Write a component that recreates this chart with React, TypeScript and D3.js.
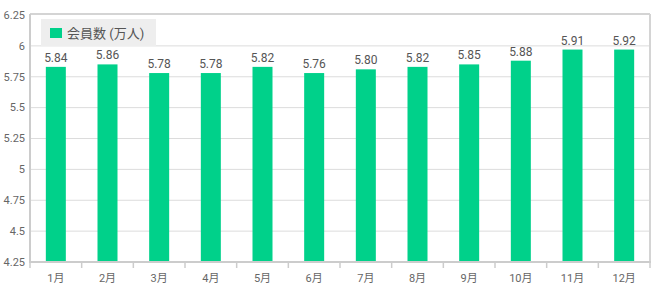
import React from "react";
import * as d3 from "d3";

const categories = ["1月", "2月", "3月", "4月", "5月", "6月", "7月", "8月", "9月", "10月", "11月", "12月"];
const barValues = [5.83, 5.85, 5.78, 5.78, 5.83, 5.78, 5.81, 5.83, 5.85, 5.88, 5.97, 5.97];
const valueLabels = ["5.84", "5.86", "5.78", "5.78", "5.82", "5.76", "5.80", "5.82", "5.85", "5.88", "5.91", "5.92"];
const yTicks = [4.25, 4.5, 4.75, 5, 5.25, 5.5, 5.75, 6, 6.25];
const yTickLabels = ["4.25", "4.5", "4.75", "5", "5.25", "5.5", "5.75", "6", "6.25"];
const seriesName = "会員数 (万人)";

const W = 660, H = 293;
const left = 30, right = 650, top = 15, bottom = 262;
const font = "Roboto, 'Noto Sans CJK JP', sans-serif";

export default function App() {
  const x = d3.scaleBand<string>().domain(categories).range([left, right]).paddingInner(0).paddingOuter(0);
  const y = d3.scaleLinear().domain([4.25, 6.25]).range([bottom, top]);
  const bw = 20;
  return (
    <svg width={W} height={H} style={{ position: "absolute", left: 0, top: 0 }} fontFamily={font}>
      <rect x={0} y={0} width={W} height={H} fill="#fff" />
      {yTicks.map((t, i) => (
        <g key={i}>
          {i > 0 && i < yTicks.length - 1 && (
            <line x1={left} x2={right} y1={y(t)} y2={y(t)} stroke="#dcdcdc" strokeWidth={1} />
          )}
          <text x={left - 5} y={y(t)} dy="0.35em" textAnchor="end" fontSize={11} fill="#666">{yTickLabels[i]}</text>
        </g>
      ))}
      <line x1={left} x2={right} y1={top - 1} y2={top - 1} stroke="#d4d4d4" strokeWidth={2} />
      <line x1={right} x2={right} y1={top - 1} y2={bottom} stroke="#d4d4d4" strokeWidth={2} />
      {barValues.map((v, i) => {
        const cx = x(categories[i])! + x.bandwidth() / 2;
        return (
          <g key={i}>
            <rect x={cx - bw / 2} y={y(v)} width={bw} height={bottom - y(v)} fill="#00d18a" />
            <text x={cx} y={y(v) - 5} textAnchor="middle" fontSize={12} fill="#555">{valueLabels[i]}</text>
          </g>
        );
      })}
      <line x1={left} x2={left} y1={top - 1} y2={bottom + 1} stroke="#cccccc" strokeWidth={2} />
      <line x1={left - 1} x2={right + 1} y1={bottom} y2={bottom} stroke="#cccccc" strokeWidth={2} />
      {categories.map((c, i) => (
        <line key={"t" + i} x1={x(c)!} x2={x(c)!} y1={bottom} y2={bottom + 6} stroke="#cccccc" strokeWidth={1.5} />
      ))}
      <line x1={right} x2={right} y1={bottom} y2={bottom + 6} stroke="#cccccc" strokeWidth={1.5} />
      {categories.map((c, i) => (
        <text key={"l" + i} x={x(c)! + x.bandwidth() / 2} y={278} dy="0.35em" textAnchor="middle" fontSize={11} fill="#666">{c}</text>
      ))}
      <rect x={41} y={19} width={115} height={27} fill="#eeeeee" />
      <rect x={50} y={28} width={12} height={10} fill="#00d18a" />
      <text x={67} y={33} dy="0.35em" fontSize={13} fill="#555">{seriesName}</text>
    </svg>
  );
}
